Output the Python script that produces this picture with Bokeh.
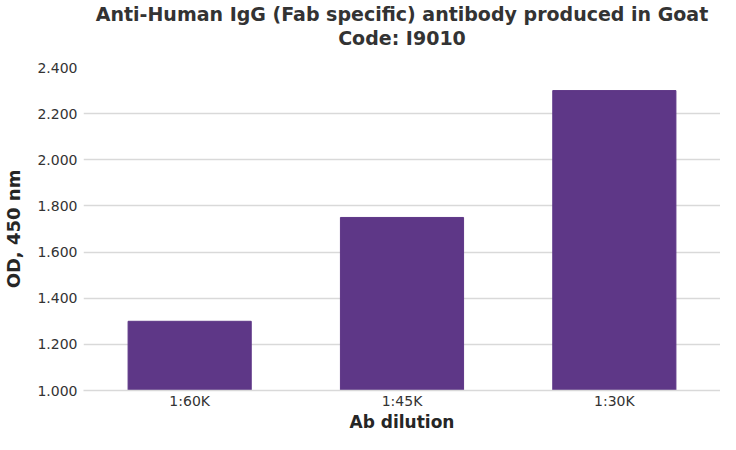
from bokeh.embed import file_html
from bokeh.resources import INLINE
from bokeh.models import ColumnDataSource, FixedTicker, NumeralTickFormatter, Title
from bokeh.plotting import figure

# Chart data
dilutions = ["1:60K", "1:45K", "1:30K"]
od_values = [1.300, 1.750, 2.300]
y_ticks = [1.0, 1.2, 1.4, 1.6, 1.8, 2.0, 2.2, 2.4]

title_lines = ["Anti-Human IgG (Fab specific) antibody produced in Goat", "Code: I9010"]

source = ColumnDataSource(data=dict(dilution=dilutions, od=od_values))

p = figure(x_range=dilutions, y_range=(1.0, 2.4), width=720, height=434,
           output_backend="svg", toolbar_location=None, tools="",
           min_border_left=74, min_border_right=0, min_border_top=67,
           min_border_bottom=40)

p.vbar(x="dilution", top="od", bottom=1.0, width=0.58, source=source,
       fill_color="#5e3787", line_color="#5e3787")

# two-line bold title, each line centred on its own;
# panels added first sit closest to the frame, so an empty spacer goes first
p.title = None
p.add_layout(Title(text=" ", text_font_size="16px", standoff=0), "above")
for line in reversed(title_lines):
    t = Title(text=line, align="center", text_font="DejaVu Sans",
              text_font_size="19px", text_font_style="bold", text_color="#333333",
              standoff=0, offset=0)
    p.add_layout(t, "above")

p.outline_line_color = None
p.xgrid.grid_line_color = None
p.ygrid.grid_line_color = "#d9d9d9"
p.ygrid.grid_line_width = 1.5

p.yaxis.ticker = FixedTicker(ticks=y_ticks)
p.yaxis.formatter = NumeralTickFormatter(format="0.000")
p.yaxis.axis_line_color = None
p.yaxis.major_label_standoff = 6
p.yaxis.axis_label = "OD, 450 nm"
p.yaxis.axis_label_standoff = 10

p.xaxis.axis_line_color = "#d9d9d9"
p.xaxis.axis_line_width = 1.5
p.xaxis.major_label_standoff = 2
p.xaxis.axis_label = "Ab dilution"
p.xaxis.axis_label_standoff = 0

for ax in (p.xaxis[0], p.yaxis[0]):
    ax.major_tick_line_color = None
    ax.minor_tick_line_color = None
    ax.major_tick_out = 0
    ax.major_tick_in = 0
    ax.minor_tick_out = 0
    ax.minor_tick_in = 0
    ax.major_label_text_font = "DejaVu Sans"
    ax.major_label_text_font_size = "14px"
    ax.major_label_text_color = "#333333"
    ax.axis_label_text_font = "DejaVu Sans"
    ax.axis_label_text_font_size = "17px"
    ax.axis_label_text_font_style = "bold"
    ax.axis_label_text_color = "#262626"

p.yaxis.axis_label_text_font_size = "18px"

open("out.html", "w").write(file_html(p, INLINE))
